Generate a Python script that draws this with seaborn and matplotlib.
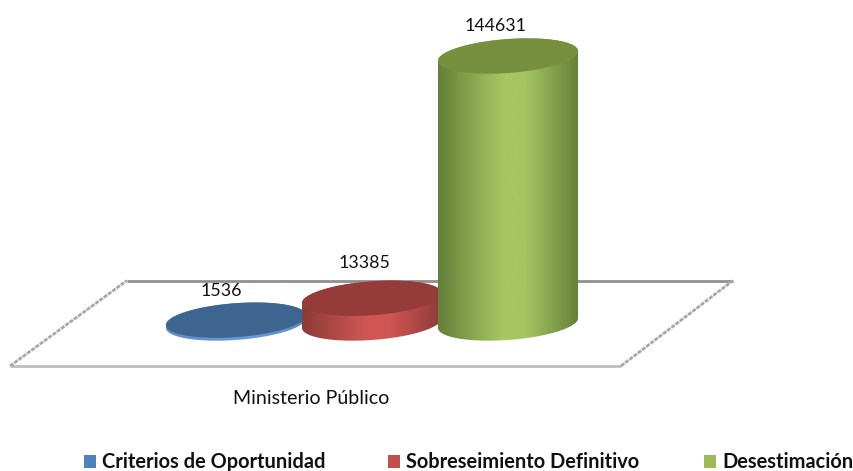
import numpy as np
import matplotlib
matplotlib.use('Agg')
import matplotlib.pyplot as plt
import seaborn as sns
from matplotlib.colors import LinearSegmentedColormap
from matplotlib.patches import Polygon, Rectangle
from matplotlib.path import Path
from matplotlib.transforms import IdentityTransform

# datos del grafico
series = ['Criterios de Oportunidad', 'Sobreseimiento Definitivo', 'Desestimación']
values = [1536, 13385, 144631]
group_label = 'Ministerio Público'

body_colors = ['#4f81bd', '#c0504d', '#9bbb59']
shade_dark = ['#5a8cc8', '#8c3b39', '#64803a']
shade_light = ['#6a9ad4', '#d05653', '#a6c661']
top_colors = ['#3e6490', '#953b39', '#76903f']

# desplazamiento de etiquetas en pixeles
label_dx = [-15, -8, -12]
label_dy = [12, 18, 13]

W, H = 854, 471

sns.set_style('white')
plt.rcParams['font.family'] = ['Lato', 'DejaVu Sans']

fig = plt.figure(figsize=(W / 100, H / 100), dpi=100)
ax = fig.add_axes([0, 0, 1, 1])

sns.barplot(x=series, y=values, hue=series, palette=body_colors, width=1.03,
            saturation=1, legend=False, ax=ax)

# escala: 136 px por categoria, base en y=323 px
xlim = (-236 / 136, (W - 236) / 136)
ylim = (-(H - 323) / 0.001846, 323 / 0.001846)
ax.set_xlim(xlim)
ax.set_ylim(ylim)


def px(x, y):
    return x / W, 1 - y / H


# piso del grafico
floor_lines = [
    ((127, 733), (280.5, 280.5), '#8f8f8f', '-'),
    ((10, 621), (366, 366), '#bdbdbd', '-'),
    ((10, 127), (366, 280.5), '#a8a8a8', (0, (1.5, 0.4))),
    ((621, 733), (366, 280.5), '#a8a8a8', (0, (1.5, 0.4))),
]
for xs, ys, col, ls in floor_lines:
    a = px(xs[0], ys[0])
    b = px(xs[1], ys[1])
    ax.plot([a[0], b[0]], [a[1], b[1]], color=col, lw=2, ls=ls,
            transform=fig.transFigure, zorder=0.5, solid_capstyle='butt')

ry = 17
shear = 0.07
t = np.linspace(0, np.pi, 80)

for i, bar in enumerate(ax.patches):
    x0 = bar.get_x()
    x1 = x0 + bar.get_width()
    v = bar.get_height()
    xc = (x0 + x1) / 2
    left, base = ax.transData.transform((x0, 0))
    right, top = ax.transData.transform((x1, v))
    cx = (left + right) / 2
    rx = (right - left) / 2

    # contorno del cilindro en pixeles de pantalla
    ex = rx * np.cos(t)
    ey = ry * np.sin(t) + shear * ex
    upper = np.column_stack([cx + ex, top + ey])
    lower = np.column_stack([cx - ex, base - ry * np.sin(t) - shear * ex])
    body = Path(np.vstack([upper, lower, upper[:1]]))
    z = 2 + i

    bar.set_zorder(z)
    bar.set_clip_path(body, IdentityTransform())

    cmap = LinearSegmentedColormap.from_list(
        'c', [(0, shade_dark[i]), (0.45, shade_light[i]), (0.62, shade_light[i]), (1, shade_dark[i])])
    im = ax.imshow(np.linspace(0, 1, 200).reshape(1, -1), cmap=cmap, aspect='auto',
                   extent=(x0, x1, ylim[0], ylim[1]), zorder=z, interpolation='bilinear')
    im.set_clip_path(body, IdentityTransform())

    tx = np.linspace(0, 2 * np.pi, 160)
    ex2 = rx * np.cos(tx)
    cap = np.column_stack([cx + ex2, top + ry * np.sin(tx) + shear * ex2])
    ax.add_patch(Polygon(cap, closed=True, facecolor=top_colors[i], edgecolor='none',
                         transform=IdentityTransform(), zorder=z + 0.1))

    ax.annotate(str(values[i]), (xc, v), xytext=(label_dx[i], label_dy[i] + ry),
                textcoords='offset pixels', ha='center', va='center',
                fontsize=12.8, color='#111111', zorder=10)

ax.set_xlim(xlim)
ax.set_ylim(ylim)
ax.set_axis_off()

fx, fy = px(311, 398)
fig.text(fx, fy, group_label, ha='center', va='center', fontsize=14.1, color='#111111')

# leyenda
legend_x = [84, 388, 704]
for name, col, lx in zip(series, body_colors, legend_x):
    sx, sy = px(lx, 468)
    fig.add_artist(Rectangle((sx, sy), 12 / W, 13 / H, facecolor=col, edgecolor='none',
                             transform=fig.transFigure))
    tx_, ty_ = px(lx + 18, 462)
    fig.text(tx_, ty_, name, ha='left', va='center', fontsize=14.4, fontweight='bold',
             color='#111111')

fig.savefig('out.png', dpi=100)
